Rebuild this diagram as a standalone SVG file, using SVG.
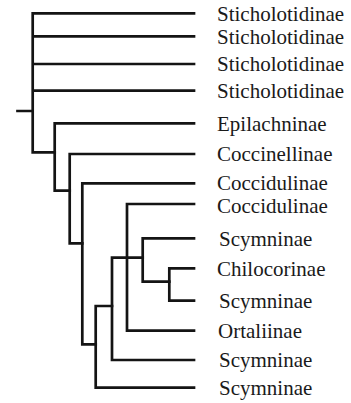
<svg xmlns="http://www.w3.org/2000/svg" width="351" height="403" viewBox="0 0 351 403">
<style>
.e{fill:none;stroke:#141414;stroke-width:2.7;stroke-linecap:square;stroke-linejoin:miter}
text{font-family:"Liberation Serif","Times New Roman",serif;font-size:21px;fill:#1a1a1a}
</style>
<rect width="351" height="403" fill="#fff"/>
<g id="connectors">
<path class="e" d="M17.5,111H32.7 M32.7,13.3V152.3H54.7 M32.7,13.3H194 M32.7,36.3H194 M32.7,64H194 M32.7,90.7H194"/>
<path class="e" d="M54.7,123.3V190.7H69.7 M54.7,123.3H194"/>
<path class="e" d="M69.7,154V243.3H82.3 M69.7,154H194"/>
<path class="e" d="M82.3,183.3V344.3H95.7 M82.3,183.3H194"/>
<path class="e" d="M95.7,306V387.7H194 M95.7,306H112"/>
<path class="e" d="M112,257.7V360H194 M112,257.7H142.7"/>
<path class="e" d="M127,204V330.7H194 M127,204H194"/>
<path class="e" d="M142.7,238.3V281.7H169.3 M142.7,238.3H194"/>
<path class="e" d="M169.3,268.3V300.7H194 M169.3,268.3H194"/>
</g>
<g id="leaf1"><text x="217" y="20.8">Sticholotidinae</text></g>
<g id="leaf2"><text x="217" y="43.8">Sticholotidinae</text></g>
<g id="leaf3"><text x="217" y="71.3">Sticholotidinae</text></g>
<g id="leaf4"><text x="217" y="98.3">Sticholotidinae</text></g>
<g id="leaf5"><text x="217" y="130.8">Epilachninae</text></g>
<g id="leaf6"><text x="217" y="161.3">Coccinellinae</text></g>
<g id="leaf7"><text x="217" y="190">Coccidulinae</text></g>
<g id="leaf8"><text x="217" y="213">Coccidulinae</text></g>
<g id="leaf9"><text x="219" y="245.8">Scymninae</text></g>
<g id="leaf10"><text x="217" y="275.8">Chilocorinae</text></g>
<g id="leaf11"><text x="219" y="308.3">Scymninae</text></g>
<g id="leaf12"><text x="218" y="338.3">Ortaliinae</text></g>
<g id="leaf13"><text x="219" y="367.3">Scymninae</text></g>
<g id="leaf14"><text x="219" y="395.3">Scymninae</text></g>
</svg>
